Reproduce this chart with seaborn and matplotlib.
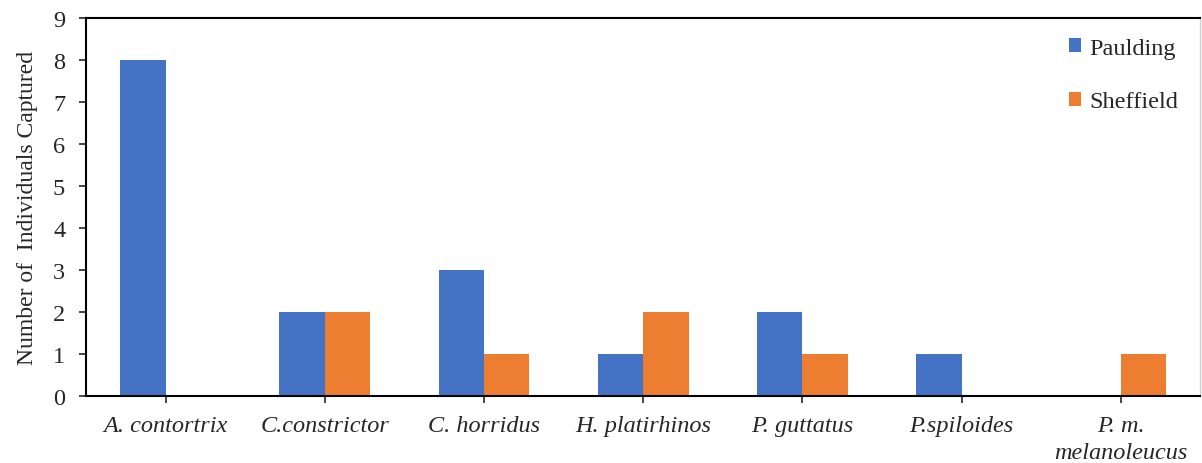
import matplotlib
matplotlib.use("Agg")
import matplotlib.pyplot as plt
import seaborn as sns
import pandas as pd

species = ["A. contortrix", "C.constrictor", "C. horridus", "H. platirhinos",
           "P. guttatus", "P.spiloides", "P. m.\nmelanoleucus"]
paulding = [8, 2, 3, 1, 2, 1, 0]
sheffield = [0, 2, 1, 2, 1, 0, 1]
sites = ["Paulding", "Sheffield"]
colors = ["#4472C4", "#ED7D31"]

df = pd.DataFrame({
    "Species": species * 2,
    "Count": paulding + sheffield,
    "Site": [sites[0]] * len(species) + [sites[1]] * len(species),
})

sns.set_style("white")
plt.rcParams["font.family"] = ["Liberation Serif", "DejaVu Serif"]

fig = plt.figure(figsize=(12.02, 4.64), dpi=100)
ax = fig.add_axes([0.0716, 0.145, 0.927, 0.815])

sns.barplot(data=df, x="Species", y="Count", hue="Site", palette=colors,
            width=0.57, dodge=True, ax=ax, saturation=1, errorbar=None,
            edgecolor="none")

ax.set_ylim(0, 9)
ax.set_yticks(range(0, 10))
ax.set_xlim(-0.5, len(species) - 0.5)
ax.set_xlabel("")
ax.set_ylabel("Number of  Individuals Captured", fontsize=17, labelpad=11)
ax.tick_params(axis="y", labelsize=17.5, length=5, width=1.2, direction="out",
               left=True, pad=10)
ax.tick_params(axis="x", labelsize=17.5, length=5, width=1.2, direction="out",
               bottom=True, pad=9)
for lbl in ax.get_xticklabels():
    lbl.set_style("italic")
    lbl.set_linespacing(1.35)

for side in ["left", "bottom", "top"]:
    ax.spines[side].set_color("black")
    ax.spines[side].set_linewidth(1.5)
ax.spines["right"].set_color("#d0d0d0")
ax.spines["right"].set_linewidth(1)

ax.legend(loc="upper right", frameon=False, fontsize=17.5, handlelength=0.5,
          handleheight=0.5, handletextpad=0.35, labelspacing=1.35,
          bbox_to_anchor=(1.0, 1.005))

fig.savefig("out.png", dpi=100)
